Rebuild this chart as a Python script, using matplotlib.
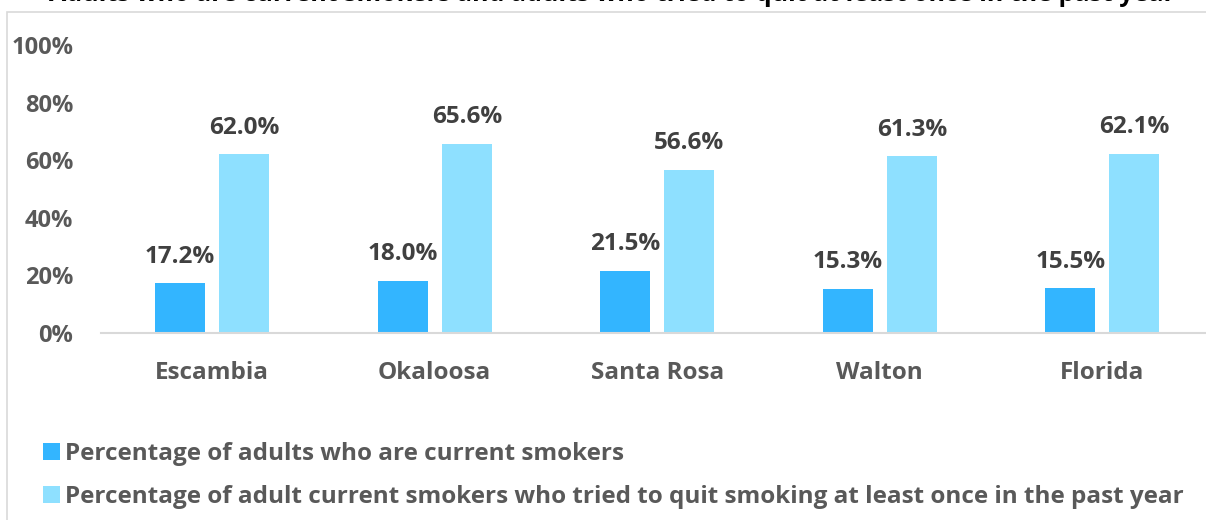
import matplotlib.pyplot as plt
from matplotlib.patches import Rectangle
from matplotlib.ticker import FuncFormatter

plt.rcParams['font.family'] = ['Open Sans', 'DejaVu Sans']
plt.rcParams['font.weight'] = 'bold'

counties = ["Escambia", "Okaloosa", "Santa Rosa", "Walton", "Florida"]
current_smokers = [17.2, 18.0, 21.5, 15.3, 15.5]
tried_to_quit = [62.0, 65.6, 56.6, 61.3, 62.1]
series_names = ["Percentage of adults who are current smokers",
                "Percentage of adult current smokers who tried to quit smoking at least once in the past year"]
title = "Adults who are current smokers and adults who tried to quit at least once in the past year"

dark_blue = "#33b5ff"
light_blue = "#8ee0ff"
text_grey = "#595959"
label_grey = "#404040"
line_grey = "#d9d9d9"

W, H = 1206, 520
fig = plt.figure(figsize=(W / 100, H / 100), dpi=100)
ax = fig.add_axes([101 / W, 187 / H, 1112.5 / W, 288 / H])

x = list(range(len(counties)))
off = 0.144
bw = 0.225
b1 = ax.bar([i - off for i in x], current_smokers, bw, color=dark_blue, label=series_names[0])
b2 = ax.bar([i + off for i in x], tried_to_quit, bw, color=light_blue, label=series_names[1])

for bars, vals in [(b1, current_smokers), (b2, tried_to_quit)]:
    for rect, v in zip(bars, vals):
        ax.annotate(f"{v:.1f}%", (rect.get_x() + rect.get_width() / 2, v),
                    xytext=(0, 15), textcoords="offset points", ha="center", va="baseline",
                    fontsize=17.5, fontweight="bold", color=label_grey)

ax.set_xlim(-0.5, 4.5)
ax.set_ylim(0, 100)
ax.set_yticks([0, 20, 40, 60, 80, 100])
ax.yaxis.set_major_formatter(FuncFormatter(lambda v, p: f"{v:.0f}%"))
ax.set_xticks(x)
ax.set_xticklabels(counties)
ax.tick_params(axis="y", length=0, pad=20, labelsize=17, labelcolor=text_grey)
ax.tick_params(axis="x", length=0, pad=20, labelsize=17.5, labelcolor=text_grey)
for lab in ax.get_xticklabels() + ax.get_yticklabels():
    lab.set_fontweight("bold")

for s in ["top", "right", "left"]:
    ax.spines[s].set_visible(False)
ax.spines["bottom"].set_color(line_grey)
ax.spines["bottom"].set_linewidth(1.5)

fig.legend(handles=[b1, b2], loc="upper left", bbox_to_anchor=(43 / W, 1 - 442 / H),
           frameon=False, handlelength=0.7, handleheight=0.7,
           handletextpad=0.2, labelspacing=0.77, borderpad=0, borderaxespad=0,
           labelcolor=text_grey, prop={"weight": "bold", "size": 17.5})

# chart border (only top and left are inside the picture)
fig.add_artist(Rectangle((7 / W, -0.1), 1.2, 1 - 12 / H + 0.1, transform=fig.transFigure,
                         fill=False, ec=line_grey, lw=1.2))

# title, cut off at the top of the picture
fig.text(612 / W, 1 - 0.6 / H, title, ha="center", va="baseline",
         fontsize=18, fontweight="bold", color="black")

fig.savefig("out.png", dpi=100)
